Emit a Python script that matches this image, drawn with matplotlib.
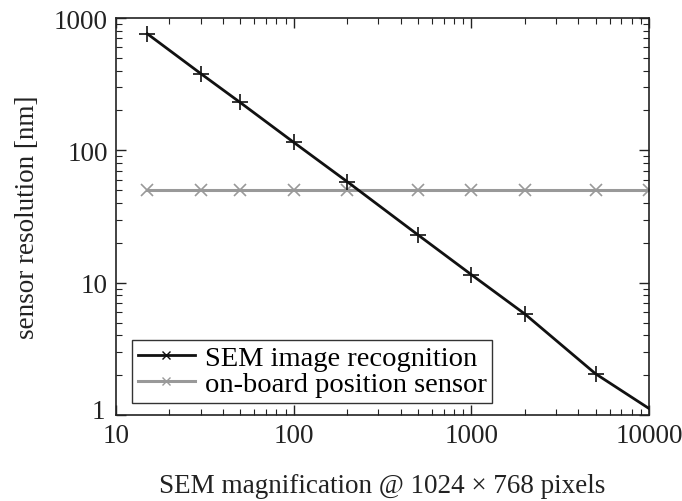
import numpy as np
import matplotlib
matplotlib.use('Agg')
import matplotlib.pyplot as plt
from matplotlib.lines import Line2D
from matplotlib.transforms import ScaledTranslation

plt.rcParams['font.family'] = ['Liberation Serif', 'DejaVu Serif']

# magnification values
mag = [15, 30, 50, 100, 200, 500, 1000, 2000, 5000, 10000]
# resolution of SEM image recognition [nm]
sem_res = [760, 380, 230, 115, 58, 23, 11.5, 5.8, 2.05, 1.12]
# on-board position sensor resolution [nm]
sensor_res = [50, 50, 50, 50, 50, 50, 50, 50, 50, 50]

fs = 19.5

fig = plt.figure(figsize=(6.82, 5.02), dpi=100)
ax = fig.add_axes([116 / 682, 1 - 416 / 502, (649 - 116) / 682, (416 - 19) / 502])

ax.plot(mag, sensor_res, color='#999999', linewidth=2.2, marker='x', markersize=8,
        markeredgewidth=1.2, zorder=2)
ax.plot(mag, sem_res, color='#111111', linewidth=2.0, marker='+', markersize=12,
        markeredgewidth=1.2, markevery=list(range(len(mag) - 1)), zorder=3)

ax.set_xscale('log')
ax.set_yscale('log')
ax.set_xlim(10, 10000)
ax.set_ylim(1, 1000)

ax.set_xticks([10, 100, 1000, 10000])
ax.set_xticklabels(['10', '100', '1000', '10000'])
ax.set_yticks([1, 10, 100, 1000])
ax.set_yticklabels(['1', '10', '100', '1000'])

ax.tick_params(which='both', direction='in', top=True, right=True, labelsize=fs, colors='#222222')
ax.tick_params(which='major', length=7, width=1.0, pad=6)
ax.tick_params(which='minor', length=4, width=0.8)
for s in ax.spines.values():
    s.set_linewidth(1.2)
    s.set_color('#222222')

# lift the "1" a little so it clears the "10" below it
lab = ax.get_yticklabels()[0]
lab.set_transform(lab.get_transform() + ScaledTranslation(-2 / 72, 5 / 72, fig.dpi_scale_trans))

ax.set_xlabel('SEM magnification @ 1024 \u00d7 768 pixels', fontsize=fs, labelpad=18, color='#222222')
ax.set_ylabel('sensor resolution [nm]', fontsize=fs, labelpad=10, color='#222222')

handles = [
    Line2D([], [], color='#111111', linewidth=2.0, marker='x', markersize=6, markeredgewidth=1.0),
    Line2D([], [], color='#999999', linewidth=2.2, marker='x', markersize=6, markeredgewidth=1.0),
]
leg = ax.legend(handles, ['SEM image recognition', 'on-board position sensor'],
                loc='lower left', bbox_to_anchor=(0.03, 0.03), fontsize=20.5,
                fancybox=False, framealpha=1, edgecolor='#333333', handlelength=2.0,
                borderpad=0.2, labelspacing=0.0, handletextpad=0.35, borderaxespad=0)
leg.get_frame().set_linewidth(1.0)

fig.savefig('out.png', dpi=100)
